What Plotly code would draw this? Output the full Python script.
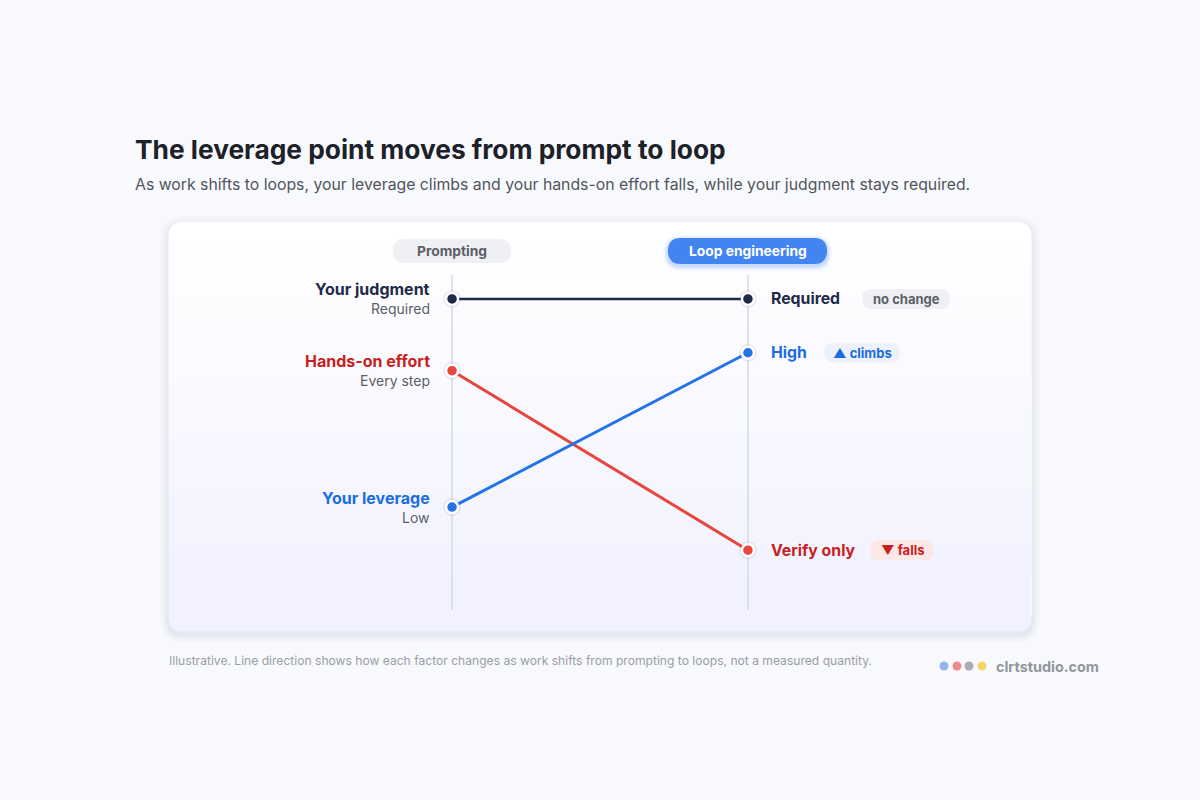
import plotly.graph_objects as go

# ---------------- data ----------------
stages = ["Prompting", "Loop engineering"]
factors = ["Your judgment", "Hands-on effort", "Your leverage"]
start_labels = ["Required", "Every step", "Low"]
end_labels = ["Required", "Verify only", "High"]
badges = ["no change", "▼ falls", "▲ climbs"]
values_prompting = [90, 70, 32]
values_loop = [90, 20, 75]

# ---------------- styles ----------------
line_colors = ["#1e2a4a", "#e8453c", "#2272e8"]
label_colors = ["#1e2a4a", "#c81e1e", "#1a6de0"]
badge_bg = ["#eff0f3", "#fde7e7", "#edf1f9"]
badge_fg = ["#5b5f68", "#c81e1e", "#1a6de0"]
badge_box = [(862, 950), (870, 934), (824, 900)]
FONT = "Inter, Noto Sans, sans-serif"

W, H = 1200, 800

# plot area in pixels
PL, PR, PT, PB = 168, 1032, 263, 622


def px(x):
    return x / W


def py(y):
    return 1 - y / H


def ypix(v):
    return PB - (PB - PT) * v / 100.0


def rpath(x0, y0, x1, y1, rt, rb=None):
    if rb is None:
        rb = rt
    pts = [
        ("M", [(x0 + rt, y0)]),
        ("L", [(x1 - rt, y0)]),
        ("Q", [(x1, y0), (x1, y0 + rt)]),
        ("L", [(x1, y1 - rb)]),
        ("Q", [(x1, y1), (x1 - rb, y1)]),
        ("L", [(x0 + rb, y1)]),
        ("Q", [(x0, y1), (x0, y1 - rb)]),
        ("L", [(x0, y0 + rt)]),
        ("Q", [(x0, y0), (x0 + rt, y0)]),
    ]
    s = ""
    for cmd, ps in pts:
        s += cmd + " " + " ".join(f"{px(a):.5f},{py(b):.5f}" for a, b in ps) + " "
    return s + "Z"


shapes = []
# card shadow
for i, op in enumerate([0.012, 0.015, 0.02, 0.03]):
    d = 8 - 2 * i
    shapes.append(dict(type="path", xref="paper", yref="paper", layer="below",
                       path=rpath(168 - d, 221 - d + 3, 1032 + d, 632 + d + 3, 16 + d),
                       fillcolor=f"rgba(30,40,80,{op})", line=dict(width=0)))
# card
shapes.append(dict(type="path", xref="paper", yref="paper", layer="below",
                   path=rpath(168, 221, 1032, 632, 16), fillcolor="#ffffff",
                   line=dict(color="#eceef3", width=1)))
# gradient overlay bands
n = 14
for i in range(n):
    y0 = 240 + i * (632 - 240) / n
    shapes.append(dict(type="path", xref="paper", yref="paper", layer="below",
                       path=rpath(168.5, y0, 1031.5, 631.5, 0, 15.5),
                       fillcolor="rgba(234,238,246,0.032)", line=dict(width=0)))

# vertical guide lines
for i in range(len(stages)):
    shapes.append(dict(type="line", xref="x", yref="paper", layer="below",
                       x0=i, x1=i, y0=py(610), y1=py(275),
                       line=dict(color="#d6dae1", width=1.5)))

# header pills
shapes.append(dict(type="path", xref="paper", yref="paper", layer="below",
                   path=rpath(393, 239, 511, 263, 12), fillcolor="#eff0f3",
                   line=dict(width=0)))
for g, op in [(5, 0.06), (3, 0.1), (1.5, 0.15)]:
    shapes.append(dict(type="path", xref="paper", yref="paper", layer="below",
                       path=rpath(668 - g, 238 - g + 2, 827 + g, 264 + g + 2, 13 + g),
                       fillcolor=f"rgba(66,133,244,{op})", line=dict(width=0)))
shapes.append(dict(type="path", xref="paper", yref="paper", layer="below",
                   path=rpath(668, 238, 827, 264, 13), fillcolor="#4285f0",
                   line=dict(width=0)))

# badges
for i, (bx0, bx1) in enumerate(badge_box):
    yc = ypix(values_loop[i])
    shapes.append(dict(type="path", xref="paper", yref="paper", layer="below",
                       path=rpath(bx0, yc - 10, bx1, yc + 10, 10), fillcolor=badge_bg[i],
                       line=dict(width=0)))

# brand dots
for xc, col in zip([944, 957, 969, 982], ["#93b5f0", "#f08a8a", "#a9abb0", "#f6d36a"]):
    shapes.append(dict(type="circle", xref="paper", yref="paper", layer="above",
                       x0=px(xc - 4.5), x1=px(xc + 4.5), y0=py(666 + 4.5), y1=py(666 - 4.5),
                       fillcolor=col, line=dict(width=0)))

fig = go.Figure()
xs = list(range(len(stages)))
for i, f in enumerate(factors):
    ys = [values_prompting[i], values_loop[i]]
    fig.add_trace(go.Scatter(x=xs, y=ys, mode="markers", hoverinfo="skip",
                             marker=dict(size=18, color="rgba(20,30,60,0.07)"),
                             showlegend=False))
    fig.add_trace(go.Scatter(x=xs, y=ys, mode="lines+markers", name=f,
                             line=dict(color=line_colors[i], width=3 if i else 2.5),
                             marker=dict(size=12, color=line_colors[i],
                                         line=dict(color="#ffffff", width=2.5)),
                             showlegend=False))

ann = []
# title / subtitle
ann.append(dict(text="<b>The leverage point moves from prompt to loop</b>", xref="paper", yref="paper",
                x=px(133), y=py(149), xanchor="left", yanchor="middle", showarrow=False,
                font=dict(size=26.3, color="#1d2129", family=FONT)))
ann.append(dict(text="As work shifts to loops, your leverage climbs and your hands-on effort falls, while your judgment stays required.",
                xref="paper", yref="paper", x=px(133), y=py(185), xanchor="left", yanchor="middle",
                showarrow=False, font=dict(size=15.8, color="#50555f", family=FONT)))
# stage headers
for i, s in enumerate(stages):
    ann.append(dict(text=f"<b>{s}</b>", xref="x", yref="paper", x=i, y=py(251),
                    xanchor="center", yanchor="middle", showarrow=False,
                    font=dict(size=13.8, color="#5b5f68" if i == 0 else "#ffffff", family=FONT)))
# left labels
for i, f in enumerate(factors):
    ann.append(dict(text=f"<b>{f}</b>", x=0, y=values_prompting[i], xref="x", yref="y",
                    xanchor="right", yanchor="middle", xshift=-20, yshift=9.5, showarrow=False,
                    font=dict(size=16, color=label_colors[i], family=FONT)))
    ann.append(dict(text=start_labels[i], x=0, y=values_prompting[i], xref="x", yref="y",
                    xanchor="right", yanchor="middle", xshift=-20, yshift=-10, showarrow=False,
                    font=dict(size=14, color="#5b5f68", family=FONT)))
# right labels + badges
for i, f in enumerate(factors):
    ann.append(dict(text=f"<b>{end_labels[i]}</b>", x=1, y=values_loop[i], xref="x", yref="y",
                    xanchor="left", yanchor="middle", xshift=21, showarrow=False,
                    font=dict(size=15.8, color=label_colors[i], family=FONT)))
    bx0, bx1 = badge_box[i]
    ann.append(dict(text=f"<b>{badges[i]}</b>", x=px((bx0 + bx1) / 2), y=values_loop[i],
                    xref="paper", yref="y", xanchor="center", yanchor="middle", showarrow=False,
                    font=dict(size=13, color=badge_fg[i], family=FONT)))
# footer
ann.append(dict(text="Illustrative. Line direction shows how each factor changes as work shifts from prompting to loops, not a measured quantity.",
                xref="paper", yref="paper", x=px(167), y=py(660), xanchor="left", yanchor="middle",
                showarrow=False, font=dict(size=12.1, color="#9a9ea6", family=FONT)))
ann.append(dict(text="<b>clrtstudio.com</b>", xref="paper", yref="paper", x=px(994), y=py(666),
                xanchor="left", yanchor="middle", showarrow=False,
                font=dict(size=14.4, color="#92969e", family=FONT)))

fig.update_layout(
    width=W, height=H,
    margin=dict(l=0, r=0, t=0, b=0),
    paper_bgcolor="#f8f9fc",
    plot_bgcolor="rgba(0,0,0,0)",
    font=dict(family=FONT),
    xaxis=dict(domain=[PL / W, PR / W], range=[-0.96, 1.96], visible=False, fixedrange=True),
    yaxis=dict(domain=[1 - PB / H, 1 - PT / H], range=[0, 100], visible=False, fixedrange=True),
    shapes=shapes,
    annotations=ann,
    hovermode=False,
)

fig.write_html("out.html", config={"displayModeBar": False})
